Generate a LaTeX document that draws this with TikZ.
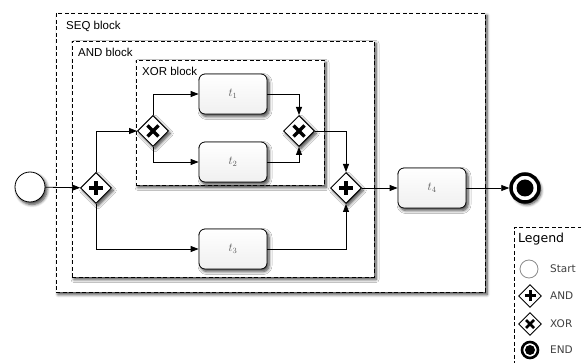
\documentclass[tikz,border=0pt]{standalone}
\usepackage{fontspec}
\setsansfont{Liberation Sans}
\newfontfamily\legfont{DejaVu Sans}
\usetikzlibrary{shapes.geometric,shadows,shadows.blur,arrows.meta}
\tikzset{
  myshadow/.style={blur shadow={shadow xshift=2pt,shadow yshift=-2.5pt,shadow blur radius=3pt,shadow blur steps=6,shadow opacity=75}},
  block/.style={draw,dash pattern=on 4pt off 2.5pt,line width=0.9pt,fill=white,inner sep=0pt,outer sep=0pt,anchor=north west,myshadow},
  blocklabel/.style={anchor=base west,inner sep=0pt,font=\sffamily\fontsize{11.5}{12}\selectfont},
  task/.style={draw,rounded corners=6pt,minimum width=68pt,minimum height=40pt,line width=0.8pt,top color=white,bottom color=black!6,inner sep=0pt,text=black!65,font=\fontsize{12}{12}\selectfont,myshadow},
  gate/.style={diamond,draw,fill=white,minimum width=31pt,minimum height=31pt,inner sep=0pt,line width=1pt,myshadow},
  lgate/.style={diamond,draw,fill=white,minimum width=23pt,minimum height=23pt,inner sep=0pt,line width=0.9pt},
  startev/.style={circle,draw,fill=white,minimum size=30pt,inner sep=0pt,line width=0.8pt,myshadow},
  endev/.style={circle,draw,fill=white,minimum size=28pt,inner sep=0pt,line width=3.5pt,myshadow},
  flow/.style={line width=0.8pt,-{Triangle[length=8pt,width=6pt]}},
  legtext/.style={anchor=west,inner sep=0pt,font=\legfont\fontsize{10.5}{12}\selectfont,text=black!75},
}
\begin{document}
\begin{tikzpicture}[x=1pt,y=-1pt]
\useasboundingbox (0,0) rectangle (581,363);
% blocks
\node[block,minimum width=429pt,minimum height=279pt] (seq) at (56,13) {};
\node[block,minimum width=302pt,minimum height=236pt] (andb) at (72,41) {};
\node[block,minimum width=188pt,minimum height=125pt] (xorb) at (136,60) {};
\node[blocklabel] (seql) at (66,30) {SEQ block};
\node[blocklabel] (andl) at (78,57) {AND block};
\node[blocklabel] (xorl) at (142,76) {XOR block};
% nodes
\node[startev] (start) at (30,187) {};
\node[gate] (and1) at (96,188) {};
\node[gate] (xor1) at (153,131) {};
\node[gate] (xor2) at (299,131) {};
\node[gate] (and2) at (346,188) {};
\node[task] (t1) at (233,94) {$t_1$};
\node[task] (t2) at (233,162) {$t_2$};
\node[task] (t3) at (233,249) {$t_3$};
\node[task] (t4) at (432,188) {$t_4$};
\node[endev] (end) at (525,188) {};
\fill (end.center) circle (8.5pt);
% gateway marks
\foreach \g in {and1,and2}{
  \draw[line width=3.8pt] ([xshift=-7pt]\g.center) -- ([xshift=7pt]\g.center);
  \draw[line width=3.8pt] ([yshift=-7pt]\g.center) -- ([yshift=7pt]\g.center);
}
\foreach \g in {xor1,xor2}{
  \draw[line width=3.5pt] ([xshift=-5.5pt,yshift=-5.5pt]\g.center) -- ([xshift=5.5pt,yshift=5.5pt]\g.center);
  \draw[line width=3.5pt] ([xshift=-5.5pt,yshift=5.5pt]\g.center) -- ([xshift=5.5pt,yshift=-5.5pt]\g.center);
}
% flows
\draw[flow] (start) -- (and1);
\draw[flow] (and1.north) |- (xor1.west);
\draw[flow] (and1.south) |- (t3.west);
\draw[flow] (xor1.north) |- (t1.west);
\draw[flow] (xor1.south) |- (t2.west);
\draw[flow] (t1.east) -| (xor2.north);
\draw[flow] (t2.east) -| (xor2.south);
\draw[flow] (xor2.east) -| (and2.north);
\draw[flow] (t3.east) -| (and2.south);
\draw[flow] (and2) -- (t4);
\draw[flow] (t4) -- (end);
% legend
\node[draw,dash pattern=on 4pt off 2.5pt,line width=0.9pt,fill=white,anchor=north west,minimum width=100pt,minimum height=160pt,inner sep=0pt] (leg) at (514,227) {};
\node[anchor=base west,inner sep=0pt,font=\legfont\fontsize{12.5}{14}\selectfont] (legt) at (518,243) {Legend};
\node[circle,draw=black!45,fill=white,minimum size=18pt,inner sep=0pt,line width=0.8pt] (ls) at (529,269) {};
\node[legtext] (lst) at (550,269) {Start};
\node[lgate] (la) at (530,296) {};
\draw[line width=3pt] ([xshift=-5.5pt]la.center) -- ([xshift=5.5pt]la.center);
\draw[line width=3pt] ([yshift=-5.5pt]la.center) -- ([yshift=5.5pt]la.center);
\node[legtext] (lat) at (550,296) {AND};
\node[lgate] (lx) at (530,324) {};
\draw[line width=2.6pt] ([xshift=-4pt,yshift=-4pt]lx.center) -- ([xshift=4pt,yshift=4pt]lx.center);
\draw[line width=2.6pt] ([xshift=-4pt,yshift=4pt]lx.center) -- ([xshift=4pt,yshift=-4pt]lx.center);
\node[legtext] (lxt) at (550,324) {XOR};
\node[circle,draw,fill=white,minimum size=16pt,inner sep=0pt,line width=2.6pt] (le) at (530,350) {};
\fill (le.center) circle (5pt);
\node[legtext] (let) at (550,350) {END};
\end{tikzpicture}
\end{document}
